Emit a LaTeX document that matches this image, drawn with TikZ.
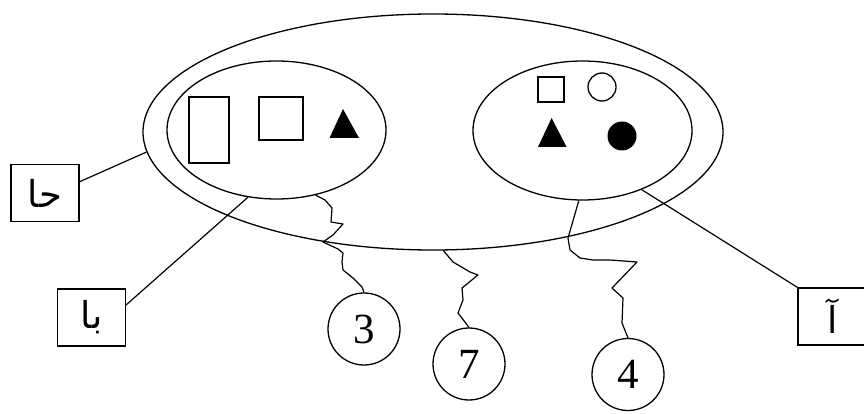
\documentclass[tikz,border=0pt]{standalone}
\usepackage{fontspec}
\setmainfont{Liberation Serif}
\newfontfamily\arabicfont[Script=Arabic]{DejaVu Sans}
\TeXXeTstate=1
\usetikzlibrary{shapes.geometric}
\begin{document}
\begin{tikzpicture}[x=1pt,y=-1pt, line width=1.3pt,
  ell/.style={draw, ellipse, inner sep=0pt},
  box/.style={draw, rectangle, inner sep=0pt},
  lab/.style={draw, rectangle, minimum width=68pt, minimum height=57pt, inner sep=0pt, font=\arabicfont\fontsize{37}{37}\selectfont},
  num/.style={draw, circle, minimum size=72pt, inner sep=0pt, font=\fontsize{43}{43}\selectfont},
  wire/.style={draw, line width=1.2pt, line join=round},
  ]
\useasboundingbox (0,0) rectangle (864,414);
% ellipses
\node[ell, minimum width=580pt, minimum height=236pt] (B) at (433,132) {};
\node[ell, minimum width=219pt, minimum height=138pt] (L) at (276.5,130) {};
\node[ell, minimum width=219pt, minimum height=139pt] (R) at (582.5,130.5) {};
% left set
\node[box, minimum width=40pt, minimum height=66pt] (r1) at (209,130) {};
\node[box, minimum width=44pt, minimum height=43pt] (r2) at (281,118.5) {};
\fill (343,109) -- (359,138) -- (329.5,138) -- cycle;
% right set
\node[box, minimum width=26pt, minimum height=25pt] (r3) at (551,89.5) {};
\draw (602,87) circle (14pt);
\fill (551.6,118) -- (566.6,147) -- (538,147) -- cycle;
\fill (622,136) circle (14.5pt);
% labels
\node[lab] (hA) at (45,193) {\beginR حا\endR};
\node[lab] (hB) at (91.5,317.5) {\beginR با\endR};
\node[lab, minimum width=70pt] (hC) at (833,316.5) {\beginR آ\endR};
% numbers
\node[num] (c3) at (364,329) {3};
\node[num] (c7) at (469,364) {7};
\node[num] (c4) at (628,374.5) {4};
% connectors
\draw[wire] (hA.18) -- (B.184);
\draw[wire] (hB.20) -- (L.-113);
\draw[wire] (R.-45.7) -- (hC.north west);
\draw[wire] (L.-59) -- (325,200) -- (332,208) -- (331,222) -- (343,224) -- (333,235) -- (323,242) -- (338,249) -- (343,253) -- (342,262) -- (343,270) -- (353,278) -- (362,287) -- (c3.north);
\draw[wire] (B.-85.2) -- (453,262) -- (470,272) -- (478,275) -- (462,288) -- (463,300) -- (458,313) -- (c7.north);
\draw[wire] (R.-93.7) -- (568,238) -- (570,250) -- (580,258) -- (593,260) -- (610,260) -- (637,262) -- (612,288) -- (623,298) -- (622,323) -- (c4.north);
\end{tikzpicture}
\end{document}
